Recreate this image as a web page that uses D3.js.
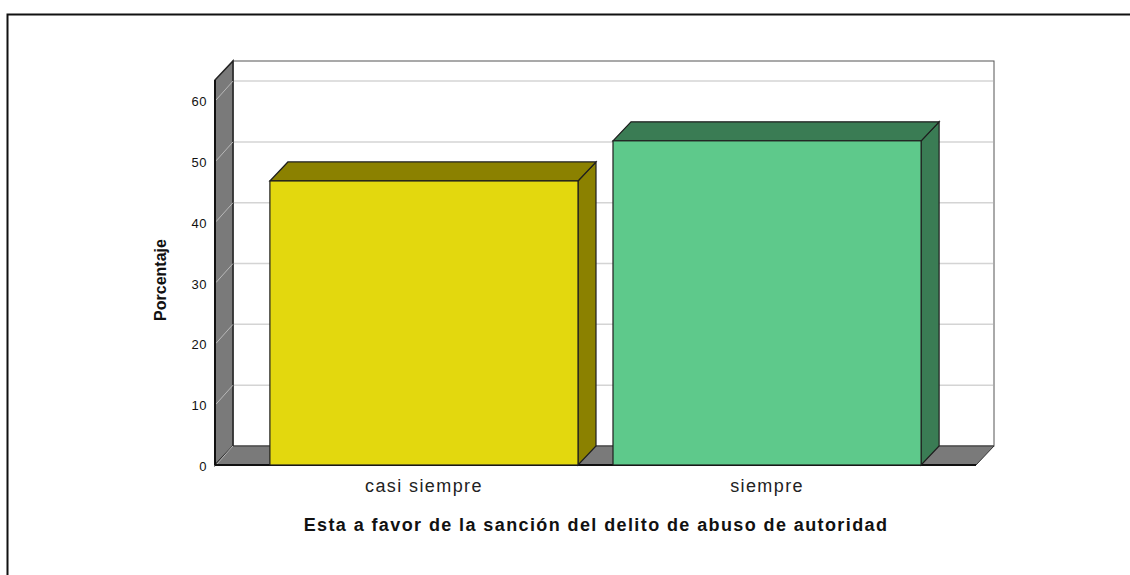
<!DOCTYPE html>
<html>
<head>
<meta charset="utf-8">
<script src="https://cdn.jsdelivr.net/npm/d3@7"></script>
<style>
  body { margin: 0; background: #fff; }
  svg { display: block; }
</style>
</head>
<body>
<svg width="1130" height="575"></svg>
<script>
var categories = ["casi siempre", "siempre"];
var percents = [46.7, 53.3];
var tickValues = [0, 10, 20, 30, 40, 50, 60];
var frontColors = ["#e3d80e", "#5ec98b"];
var darkColors = ["#8b8100", "#3a7c54"];

createChart();

function createChart() {
  var svg = d3.select("svg");

  // depth of the 3d box
  var dx = 18, dy = 19;

  var x = d3.scaleBand()
    .domain(categories)
    .range([215, 976])
    .paddingInner(0.102)
    .paddingOuter(0.16);

  var y = d3.scaleLinear()
    .domain([0, 63.3])
    .range([465, 80]);

  // outer frame
  svg.append("rect")
    .attr("x", 7.5).attr("y", 14.5)
    .attr("width", 1140).attr("height", 600)
    .attr("fill", "none")
    .attr("stroke", "#111")
    .attr("stroke-width", 2);

  var x0 = x.range()[0], x1 = x.range()[1];
  var yTop = y.range()[1], yBot = y.range()[0];

  // back wall
  svg.append("rect")
    .attr("x", x0 + dx).attr("y", yTop - dy)
    .attr("width", x1 - x0).attr("height", yBot - yTop)
    .attr("fill", "#fff")
    .attr("stroke", "#555")
    .attr("stroke-width", 1);

  // left wall
  svg.append("path")
    .attr("d", "M" + x0 + "," + yBot + "L" + x0 + "," + yTop +
      "L" + (x0 + dx) + "," + (yTop - dy) + "L" + (x0 + dx) + "," + (yBot - dy) + "Z")
    .attr("fill", "#7a7a7a")
    .attr("stroke", "#222")
    .attr("stroke-width", 1.5);

  // floor
  svg.append("path")
    .attr("d", "M" + x0 + "," + yBot + "L" + x1 + "," + yBot +
      "L" + (x1 + dx) + "," + (yBot - dy) + "L" + (x0 + dx) + "," + (yBot - dy) + "Z")
    .attr("fill", "#7a7a7a")
    .attr("stroke", "#333")
    .attr("stroke-width", 1);

  // grid lines on back wall and left wall
  var grid = svg.append("g").attr("class", "grid");
  grid.selectAll("line.back")
    .data(tickValues.filter(function(d) { return d > 0; }))
    .enter().append("line")
    .attr("class", "back")
    .attr("x1", x0 + dx + 1).attr("x2", x1 + dx - 1)
    .attr("y1", function(d) { return y(d) - dy; })
    .attr("y2", function(d) { return y(d) - dy; })
    .attr("stroke", "#d4d4d4")
    .attr("stroke-width", 1.5);
  grid.selectAll("line.side")
    .data(tickValues)
    .enter().append("line")
    .attr("class", "side")
    .attr("x1", x0 + 1).attr("x2", x0 + dx)
    .attr("y1", function(d) { return y(d); })
    .attr("y2", function(d) { return y(d) - dy; })
    .attr("stroke", "#b8b8b8")
    .attr("stroke-width", 1);

  // front axis edge and base line
  svg.append("line")
    .attr("x1", x0).attr("x2", x0)
    .attr("y1", yTop).attr("y2", yBot)
    .attr("stroke", "#111").attr("stroke-width", 2);
  svg.append("line")
    .attr("x1", x0).attr("x2", x1)
    .attr("y1", yBot).attr("y2", yBot)
    .attr("stroke", "#111").attr("stroke-width", 2);

  // bars
  var bars = svg.append("g")
    .attr("class", "bars")
    .selectAll("g")
    .data(percents)
    .enter().append("g");

  bars.append("path")
    .attr("d", function(d, i) {
      var bx = x(categories[i]) + x.bandwidth(), by = y(d);
      return "M" + bx + "," + by + "L" + (bx + dx) + "," + (by - dy) +
        "L" + (bx + dx) + "," + (yBot - dy) + "L" + bx + "," + yBot + "Z";
    })
    .attr("fill", function(d, i) { return darkColors[i]; })
    .attr("stroke", "#1e1e1e").attr("stroke-width", 1.2);

  bars.append("path")
    .attr("d", function(d, i) {
      var bx = x(categories[i]), by = y(d), bw = x.bandwidth();
      return "M" + bx + "," + by + "L" + (bx + dx) + "," + (by - dy) +
        "L" + (bx + bw + dx) + "," + (by - dy) + "L" + (bx + bw) + "," + by + "Z";
    })
    .attr("fill", function(d, i) { return darkColors[i]; })
    .attr("stroke", "#1e1e1e").attr("stroke-width", 1.2);

  bars.append("rect")
    .attr("x", function(d, i) { return x(categories[i]); })
    .attr("y", function(d) { return y(d); })
    .attr("width", x.bandwidth())
    .attr("height", function(d) { return yBot - y(d); })
    .attr("fill", function(d, i) { return frontColors[i]; })
    .attr("stroke", "#1e1e1e").attr("stroke-width", 1.2);

  // y axis labels
  var yAxis = d3.axisLeft(y).tickValues(tickValues).tickSize(0).tickPadding(8);
  var gy = svg.append("g")
    .attr("transform", "translate(" + x0 + ",0)")
    .call(yAxis);
  gy.select(".domain").remove();
  gy.selectAll("text")
    .attr("font-family", "'Liberation Sans', Arial, sans-serif")
    .attr("font-size", "13px")
    .attr("letter-spacing", "0.5px")
    .attr("fill", "#111")
    .attr("dy", "0.42em");

  // x axis labels
  var xAxis = d3.axisBottom(x).tickSize(0).tickPadding(12);
  var gx = svg.append("g")
    .attr("transform", "translate(0," + yBot + ")")
    .call(xAxis);
  gx.select(".domain").remove();
  gx.selectAll("text")
    .attr("font-family", "'Liberation Sans', Arial, sans-serif")
    .attr("font-size", "18px")
    .attr("letter-spacing", "1.4px")
    .attr("dy", "0.82em")
    .attr("fill", "#222");

  // axis titles
  svg.append("text")
    .attr("transform", "translate(166,280) rotate(-90)")
    .attr("text-anchor", "middle")
    .attr("font-family", "'Liberation Sans Narrow', 'Arial Narrow', 'Liberation Sans', sans-serif")
    .attr("font-weight", "bold")
    .attr("font-size", "16px")
    .attr("fill", "#111")
    .text("Porcentaje");

  svg.append("text")
    .attr("x", 596).attr("y", 531)
    .attr("text-anchor", "middle")
    .attr("font-family", "'Liberation Sans', Arial, sans-serif")
    .attr("font-weight", "bold")
    .attr("font-size", "18px")
    .attr("letter-spacing", "1.4px")
    .attr("fill", "#111")
    .text("Esta a favor de la sanción del delito de abuso de autoridad");
}
</script>
</body>
</html>
